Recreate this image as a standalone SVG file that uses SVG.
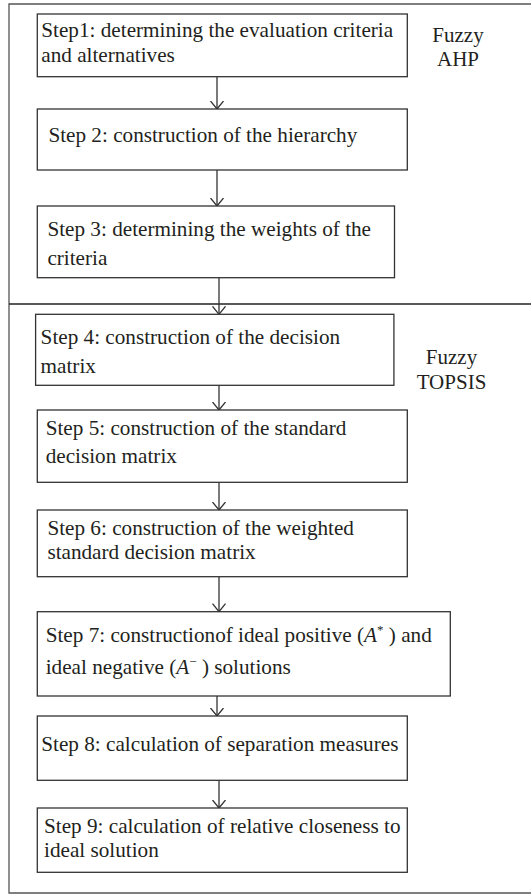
<svg xmlns="http://www.w3.org/2000/svg" width="531" height="894" viewBox="0 0 531 894">
<style>
  .box { fill: #ffffff; stroke: #333333; stroke-width: 1.3; }
  .frame { fill: none; stroke: #555555; stroke-width: 1.3; }
  .sep { fill: none; stroke: #222222; stroke-width: 1.6; }
  .t { font-family: "Liberation Serif", "Times New Roman", serif; font-size: 21.2px; fill: #231f20; }
  .lab { font-family: "Liberation Serif", "Times New Roman", serif; font-size: 21px; fill: #231f20; text-anchor: middle; }
  .conn { stroke: #333333; stroke-width: 1.3; fill: none; marker-end: url(#arr); }
  .it { font-style: italic; }
</style>
<defs>
  <marker id="arr" markerUnits="userSpaceOnUse" viewBox="0 0 9 14" refX="8.5" refY="7" markerWidth="9" markerHeight="14" orient="auto">
    <path d="M0.5,0.5 L8.5,7 L0.5,13.5" fill="none" stroke="#333333" stroke-width="1.3"/>
  </marker>
</defs>
<rect width="531" height="894" fill="#ffffff"/>
<g id="frame">
  <path class="frame" d="M531,4 L9,4 L9,893 L531,893"/>
  <path class="sep" d="M9,304 L531,304"/>
</g>
<g id="labels">
  <text class="lab" x="458" y="42">Fuzzy</text>
  <text class="lab" x="458" y="66">AHP</text>
  <text class="lab" x="451.5" y="363.5">Fuzzy</text>
  <text class="lab" x="451.5" y="388.5">TOPSIS</text>
</g>
<g id="connectors">
  <line class="conn" x1="217" y1="76.7" x2="217" y2="109"/>
  <line class="conn" x1="217" y1="170" x2="217" y2="206"/>
  <line class="conn" x1="219" y1="277.7" x2="219" y2="314.3"/>
  <line class="conn" x1="219" y1="385.3" x2="219" y2="410"/>
  <line class="conn" x1="219" y1="482.3" x2="219" y2="510"/>
  <line class="conn" x1="219" y1="576.7" x2="219" y2="611.7"/>
  <line class="conn" x1="217" y1="696" x2="217" y2="716"/>
  <line class="conn" x1="219" y1="780.3" x2="219" y2="808"/>
</g>
<g id="step1">
  <rect class="box" x="37.3" y="14" width="370" height="62.7"/>
  <text class="t" x="41.3" y="37.3">Step1: determining the evaluation criteria</text>
  <text class="t" x="41.3" y="62.3">and alternatives</text>
</g>
<g id="step2">
  <rect class="box" x="37.3" y="109" width="370" height="61"/>
  <text class="t" x="48.4" y="141.7">Step 2: construction of the hierarchy</text>
</g>
<g id="step3">
  <rect class="box" x="37.3" y="206" width="357.2" height="71.7"/>
  <text class="t" x="47.4" y="236">Step 3: determining the weights of the</text>
  <text class="t" x="47.4" y="265">criteria</text>
</g>
<g id="step4">
  <rect class="box" x="35.6" y="314.3" width="358.3" height="71"/>
  <text class="t" x="40.6" y="344.3">Step 4: construction of the decision</text>
  <text class="t" x="40.6" y="372.7">matrix</text>
</g>
<g id="step5">
  <rect class="box" x="37.3" y="410" width="370" height="72.3"/>
  <text class="t" x="45.7" y="435">Step 5: construction of the standard</text>
  <text class="t" x="45.7" y="463.3">decision matrix</text>
</g>
<g id="step6">
  <rect class="box" x="37.3" y="510" width="370" height="66.7"/>
  <text class="t" x="47.4" y="535">Step 6: construction of the weighted</text>
  <text class="t" x="47.4" y="559.3">standard decision matrix</text>
</g>
<g id="step7">
  <rect class="box" x="37.3" y="611.7" width="413" height="84.3"/>
  <text class="t" x="45.7" y="641.7">Step 7: constructionof ideal positive (<tspan class="it">A</tspan><tspan font-size="13" dy="-8">*</tspan><tspan dy="8"> ) and</tspan></text>
  <text class="t" x="45.7" y="674">ideal negative (<tspan class="it">A</tspan><tspan font-size="13" dy="-8">−</tspan><tspan dy="8"> ) solutions</tspan></text>
</g>
<g id="step8">
  <rect class="box" x="37.3" y="716" width="370" height="64.3"/>
  <text class="t" x="41.3" y="750.7">Step 8: calculation of separation measures</text>
</g>
<g id="step9">
  <rect class="box" x="37.3" y="808" width="370" height="64.3"/>
  <text class="t" x="44" y="833.3">Step 9: calculation of relative closeness to</text>
  <text class="t" x="44" y="857.3">ideal solution</text>
</g>
</svg>
